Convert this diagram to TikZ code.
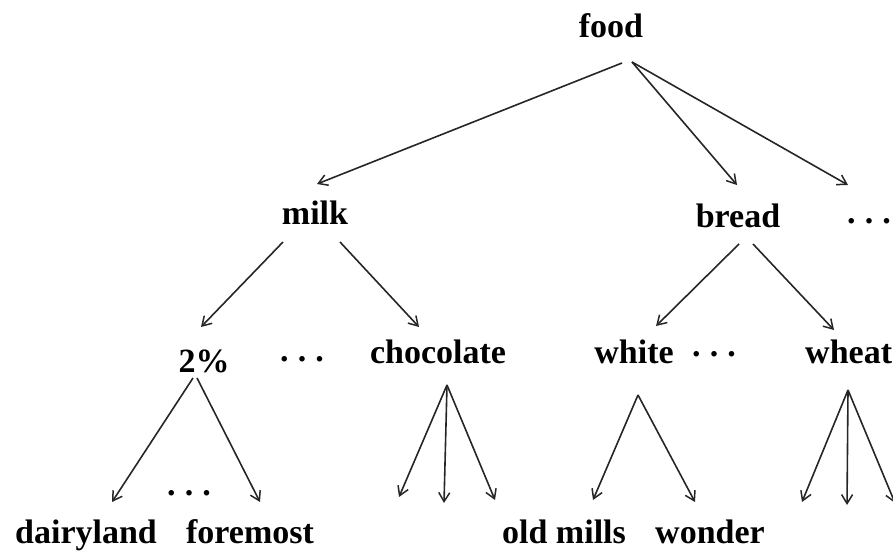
\documentclass[tikz,border=0pt]{standalone}
\usepackage{fontspec}
\setmainfont{Liberation Serif}
\usetikzlibrary{arrows.meta}
\newcommand{\tridots}{.\kern0.27em.\kern0.27em.}
\begin{document}
\begin{tikzpicture}[x=1pt,y=-1pt,
  lbl/.style={anchor=base,inner sep=0pt,font=\fontsize{34}{40}\selectfont\bfseries},
  dts/.style={anchor=base,inner sep=0pt,font=\fontsize{34}{40}\selectfont\bfseries},
  arr/.style={draw=black!85,line width=1.6pt,-{Straight Barb[length=9pt,width=11pt,line width=1.5pt]}}]
\useasboundingbox (0,0) rectangle (893,553);
\clip (0,0) rectangle (893,553);
% nodes
\node[lbl] (food) at (611,38) {food};
\node[lbl] (milk) at (315,225) {milk};
\node[lbl] (bread) at (738,227) {bread};
\node[dts] (dotsR) at (869,223) {\tridots};
\node[lbl] (two) at (204,372) {2\%};
\node[dts] (dotsM) at (302,361) {\tridots};
\node[lbl] (choc) at (438,363) {chocolate};
\node[lbl] (white) at (634,363) {white};
\node[dts] (dotsW) at (714,356) {\tridots};
\node[lbl,anchor=base west] (wheat) at (805,363) {wheat};
\node[dts] (dotsB) at (189,495) {\tridots};
\node[lbl] (dairy) at (86,543) {dairyland};
\node[lbl] (fore) at (250,543) {foremost};
\node[lbl] (old) at (564,543) {old mills};
\node[lbl] (wond) at (710,543) {wonder};
% free ends
\coordinate (c1) at (399,497);
\coordinate (c2) at (444,503);
\coordinate (c3) at (495,500);
\coordinate (w1) at (802,502);
\coordinate (w2) at (847,505);
\coordinate (w3) at (895,503);
% connectors
\draw[arr] ([shift={(11,25)}]food.base) -- ([shift={(2,-41)}]milk.base);
\draw[arr] ([shift={(21,24)}]food.base) -- ([shift={(-1,-42)}]bread.base);
\draw[arr] ([shift={(21,24)}]food.base) -- ([shift={(-21,-38)}]dotsR.base);
\draw[arr] ([shift={(-32,17)}]milk.base) -- ([shift={(-3,-45)}]two.base);
\draw[arr] ([shift={(25,17)}]milk.base) -- ([shift={(-19,-36)}]choc.base);
\draw[arr] ([shift={(1,17)}]bread.base) -- ([shift={(22,-37)}]white.base);
\draw[arr] ([shift={(15,17)}]bread.base) -- ([shift={(29,-33)}]wheat.base west);
\draw[arr] ([shift={(-11,6)}]two.base) -- ([shift={(26,-41)}]dairy.base);
\draw[arr] ([shift={(-7,6)}]two.base) -- ([shift={(10,-41)}]fore.base);
\foreach \e in {c1,c2,c3} \draw[arr] ([shift={(9,22)}]choc.base) -- (\e);
\draw[arr] ([shift={(4,32)}]white.base) -- ([shift={(29,-43)}]old.base);
\draw[arr] ([shift={(4,32)}]white.base) -- ([shift={(-15,-41)}]wond.base);
\foreach \e in {w1,w2,w3} \draw[arr] ([shift={(43,27)}]wheat.base west) -- (\e);
\end{tikzpicture}
\end{document}
